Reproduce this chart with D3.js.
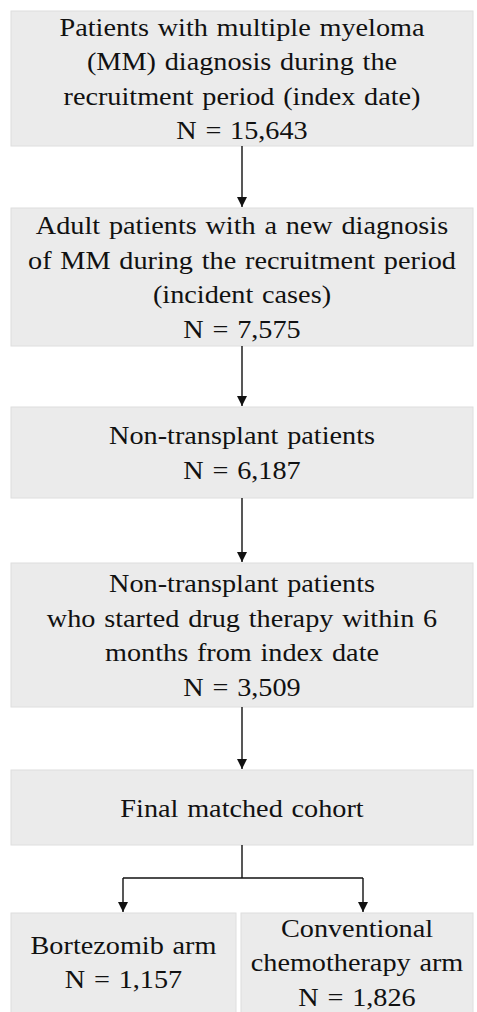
<!DOCTYPE html>
<html>
<head>
<meta charset="utf-8">
<script src="https://cdn.jsdelivr.net/npm/d3@7"></script>
<style>
  body { margin: 0; background: #fff; }
</style>
</head>
<body>
<div id="chart"></div>
<script>
// flow steps (main column)
const stepLabels = [
  ["Patients with multiple myeloma", "(MM) diagnosis during the", "recruitment period (index date)"],
  ["Adult patients with a new diagnosis", "of MM during the recruitment period", "(incident cases)"],
  ["Non-transplant patients"],
  ["Non-transplant patients", "who started drug therapy within 6", "months from index date"],
  ["Final matched cohort"]
];
const stepCounts = [15643, 7575, 6187, 3509, null];

// the two treatment arms
const armLabels = [["Bortezomib arm"], ["Conventional", "chemotherapy arm"]];
const armCounts = [1157, 1826];

(function() {
  const W = 477, H = 1012;
  const fmt = d3.format(",");
  const fontSize = 25, lh = 34.5, baseShift = 9, stretch = 1.13;

  // layout (box edges in px)
  const boxTop = [11, 208, 407, 563, 770];
  const boxBottom = [146, 346, 498, 707, 845];
  const left = 11, right = 473, cx = 242;
  const armTop = 913, armBottom = 1030;
  const armX = [[11, 236], [241, 473]];

  const svg = d3.select("#chart").append("svg")
    .attr("width", W).attr("height", H);

  svg.append("defs").append("marker")
    .attr("id", "arrow")
    .attr("viewBox", "0 0 10 10")
    .attr("refX", 10).attr("refY", 5)
    .attr("markerWidth", 10).attr("markerHeight", 10)
    .attr("markerUnits", "userSpaceOnUse")
    .attr("orient", "auto")
    .append("path")
    .attr("d", "M0,0L10,5L0,10Z")
    .attr("fill", "#111");

  const steps = stepLabels.map((lines, i) => ({
    lines: stepCounts[i] != null ? lines.concat("N = " + fmt(stepCounts[i])) : lines,
    x0: left, x1: right, y0: boxTop[i], y1: boxBottom[i]
  }));
  const arms = armLabels.map((lines, i) => ({
    lines: lines.concat("N = " + fmt(armCounts[i])),
    x0: armX[i][0], x1: armX[i][1], y0: armTop, y1: armBottom, mid: 962
  }));
  const boxes = steps.concat(arms);

  const g = svg.selectAll("g.box")
    .data(boxes)
    .enter()
    .append("g")
    .attr("class", "box");

  g.append("rect")
    .attr("x", d => d.x0)
    .attr("y", d => d.y0)
    .attr("width", d => d.x1 - d.x0)
    .attr("height", d => d.y1 - d.y0)
    .attr("fill", "#ebebeb")
    .attr("stroke", "#dedede")
    .attr("stroke-width", 1);

  // the source image is a bit wider than tall, so the text is stretched sideways
  g.each(function(d) {
    const mid = d.mid != null ? d.mid : (d.y0 + d.y1) / 2;
    const n = d.lines.length;
    const tx = (d.x0 + d.x1) / 2;
    d3.select(this).selectAll("text")
      .data(d.lines)
      .enter()
      .append("text")
      .attr("transform", (t, j) =>
        "translate(" + tx + "," + (mid + (j - (n - 1) / 2) * lh + baseShift) + ") scale(" + stretch + ",1)")
      .attr("text-anchor", "middle")
      .attr("font-family", "'Liberation Serif', 'Times New Roman', serif")
      .attr("font-size", fontSize)
      .attr("word-spacing", 1.5)
      .attr("fill", "#111")
      .text(t => t);
  });

  // arrows between steps
  const links = d3.range(steps.length - 1).map(i => ({ y0: boxBottom[i], y1: boxTop[i + 1] }));
  svg.selectAll("line.link")
    .data(links)
    .enter()
    .append("line")
    .attr("class", "link")
    .attr("x1", cx).attr("x2", cx)
    .attr("y1", d => d.y0).attr("y2", d => d.y1 - 1)
    .attr("stroke", "#111")
    .attr("stroke-width", 1.4)
    .attr("marker-end", "url(#arrow)");

  // split to the two arms
  const splitY = 878;
  const armCx = [123, 363];
  svg.append("line")
    .attr("x1", cx).attr("x2", cx)
    .attr("y1", boxBottom[4]).attr("y2", splitY)
    .attr("stroke", "#111").attr("stroke-width", 1.4);
  svg.append("line")
    .attr("x1", armCx[0]).attr("x2", armCx[1])
    .attr("y1", splitY).attr("y2", splitY)
    .attr("stroke", "#111").attr("stroke-width", 1.4);
  svg.selectAll("line.branch")
    .data(armCx)
    .enter()
    .append("line")
    .attr("class", "branch")
    .attr("x1", d => d).attr("x2", d => d)
    .attr("y1", splitY).attr("y2", armTop - 1)
    .attr("stroke", "#111")
    .attr("stroke-width", 1.4)
    .attr("marker-end", "url(#arrow)");
})();
</script>
</body>
</html>
